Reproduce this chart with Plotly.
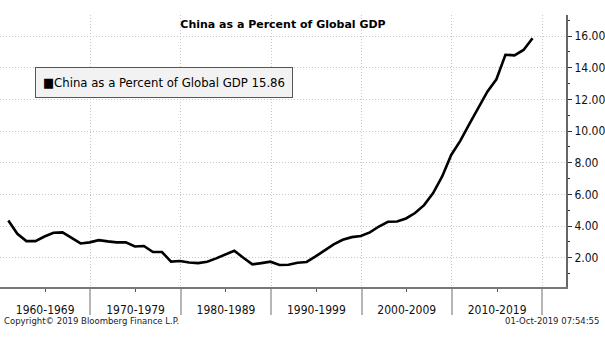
import plotly.graph_objects as go

# ---- data ----
years = list(range(1960, 2019))
share = [4.35, 3.51, 3.05, 3.05, 3.34, 3.58, 3.60, 3.24, 2.90, 2.97,
         3.11, 3.03, 2.97, 2.97, 2.71, 2.74, 2.36, 2.36, 1.75, 1.79,
         1.70, 1.66, 1.74, 1.96, 2.19, 2.44, 2.00, 1.58, 1.66, 1.75,
         1.54, 1.56, 1.68, 1.73, 2.08, 2.48, 2.84, 3.13, 3.30, 3.37,
         3.60, 3.97, 4.27, 4.29, 4.48, 4.82, 5.32, 6.08, 7.13, 8.49,
         9.38, 10.43, 11.50, 12.49, 13.27, 14.82, 14.78, 15.12, 15.86]
series_name = "China as a Percent of Global GDP"
decade_bounds = [1970, 1980, 1990, 2000, 2010, 2020]
decade_mids = [1965, 1975, 1985, 1995, 2005, 2015]
decade_labels = ["1960-1969", "1970-1979", "1980-1989", "1990-1999", "2000-2009", "2010-2019"]
y_ticks = [2, 4, 6, 8, 10, 12, 14, 16]
y_minor = [1, 3, 5, 7, 9, 11, 13, 15, 17]

# annual values plotted at year end
x_vals = [y + 0.92 for y in years]

W, H = 605, 341
L, R, T, B = 0, 37, 15, 54
plot_h = H - T - B
plot_w = W - L - R

fig = go.Figure()
fig.add_trace(go.Scatter(x=x_vals, y=share, mode="lines", name=series_name,
                         line=dict(color="black", width=2.6), showlegend=False))

grid_col = "#c8c8c8"
fig.update_layout(
    width=W, height=H,
    margin=dict(l=L, r=R, t=T, b=B),
    paper_bgcolor="white", plot_bgcolor="white",
    title=dict(text="<b>China as a Percent of Global GDP</b>", x=0.5, xref="paper",
               xanchor="center", y=1 - 24 / H, yref="container", yanchor="middle",
               font=dict(family="DejaVu Sans", size=11, color="black")),
    xaxis=dict(range=[1960, 2022.62], showgrid=False, zeroline=False,
               tickvals=decade_mids, ticktext=decade_labels,
               ticks="outside", ticklen=3, tickcolor="#555", tickwidth=1,
               ticklabelstandoff=8,
               tickfont=dict(family="DejaVu Sans Condensed", size=12, color="#111"),
               showline=True, linecolor="#777", linewidth=1.5,
               minor=dict(tickvals=decade_bounds, ticks="outside", ticklen=26,
                          tickcolor="#b5b5b5", tickwidth=1.5,
                          showgrid=True, gridcolor=grid_col, griddash="1px,2px", gridwidth=1)),
    yaxis=dict(side="right", range=[0.15, 17.33], tickvals=y_ticks, tickformat=".2f",
               showgrid=True, gridcolor=grid_col, griddash="1px,2px", gridwidth=1,
               zeroline=False, ticks="outside", ticklen=4, tickcolor="#333", tickwidth=1,
               tickfont=dict(family="DejaVu Sans Condensed", size=12, color="#111"),
               showline=True, linecolor="#666", linewidth=2,
               minor=dict(tickvals=y_minor, ticks="outside", ticklen=2,
                          tickcolor="#333", tickwidth=1, showgrid=False)),
)

# legend-like box
fig.add_annotation(
    text=f"■{series_name} {share[-1]:.2f}",
    xref="paper", yref="paper",
    x=35 / plot_w, y=1 - (67 - T) / plot_h, xanchor="left", yanchor="top",
    showarrow=False, align="left",
    font=dict(family="DejaVu Sans Condensed", size=13, color="black"),
    bgcolor="#f2f2f2", bordercolor="#555", borderwidth=1, borderpad=7,
)

fig.add_annotation(
    text="Copyright© 2019 Bloomberg Finance L.P.",
    xref="paper", yref="paper", x=2 / plot_w, y=-(321 - (H - B)) / plot_h,
    xanchor="left", yanchor="middle", showarrow=False,
    font=dict(family="DejaVu Sans", size=8.5, color="#222"),
)
fig.add_annotation(
    text="01-Oct-2019 07:54:55",
    xref="paper", yref="paper", x=603 / plot_w, y=-(321 - (H - B)) / plot_h,
    xanchor="right", yanchor="middle", showarrow=False,
    font=dict(family="DejaVu Sans", size=8.5, color="#222"),
)

fig.write_html("out.html")
